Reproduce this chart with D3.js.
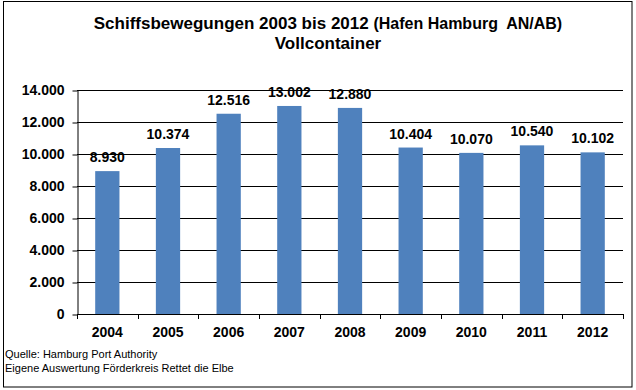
<!DOCTYPE html>
<html>
<head>
<meta charset="utf-8">
<script src="https://cdn.jsdelivr.net/npm/d3@7"></script>
<style>
  html, body { margin: 0; padding: 0; background: #fff; }
  svg text { font-family: "Liberation Sans", Arial, sans-serif; fill: #000; }
</style>
</head>
<body>
<svg id="chart" width="636" height="390"></svg>
<script>
const categories = ["2004", "2005", "2006", "2007", "2008", "2009", "2010", "2011", "2012"];
const values = [8930, 10374, 12516, 13002, 12880, 10404, 10070, 10540, 10102];
const yTicks = [0, 2000, 4000, 6000, 8000, 10000, 12000, 14000];

const svg = d3.select("#chart");
const m = { left: 77, right: 623, top: 90, bottom: 314 };

const de = d3.formatLocale({ decimal: ",", thousands: ".", grouping: [3], currency: ["", " €"] });
const fmt = de.format(",d");

// outer border
svg.append("rect").attr("x", 3.5).attr("y", 1.5).attr("width", 628.5).attr("height", 385.5)
  .attr("fill", "none").attr("stroke", "#000").attr("stroke-width", 1);

const xOuter = d3.scaleBand().domain(categories).range([m.left, m.right]).padding(0);
const x = d3.scaleBand().domain(categories).range([m.left, m.right]).paddingInner(0.6).paddingOuter(0.3);
const y = d3.scaleLinear().domain([0, 14000]).range([m.bottom, m.top]);

// gridlines
svg.append("g").selectAll("line").data(yTicks.filter(d => d > 0)).join("line")
  .attr("x1", m.left).attr("x2", m.right)
  .attr("y1", d => Math.round(y(d)) + 0.5).attr("y2", d => Math.round(y(d)) + 0.5)
  .attr("stroke", "#000").attr("stroke-width", 1);

// bars
svg.append("g").selectAll("rect").data(values).join("rect")
  .attr("x", (d, i) => x(categories[i]))
  .attr("width", x.bandwidth())
  .attr("y", d => y(d))
  .attr("height", d => y(0) - y(d))
  .attr("fill", "#4F81BD");

// y axis
const yAxis = d3.axisLeft(y).tickValues(yTicks).tickFormat(fmt).tickSizeInner(5).tickSizeOuter(0).tickPadding(8);
const gy = svg.append("g").attr("transform", `translate(${m.left + 0.5},0.5)`).call(yAxis);
gy.select(".domain").attr("stroke", "#000");
gy.selectAll(".tick line").attr("stroke", "#000");
gy.selectAll(".tick text").attr("font-size", 14).attr("font-weight", "bold")
  .attr("font-family", "'Liberation Sans', Arial, sans-serif").attr("fill", "#000");

// x axis: baseline line + ticks at category boundaries
const boundaries = categories.map(c => xOuter(c)).concat([m.right]);
svg.append("line").attr("x1", m.left).attr("x2", m.right)
  .attr("y1", m.bottom + 0.5).attr("y2", m.bottom + 0.5).attr("stroke", "#000");
svg.append("g").selectAll("line").data(boundaries).join("line")
  .attr("x1", d => Math.round(d) + 0.5).attr("x2", d => Math.round(d) + 0.5)
  .attr("y1", m.bottom).attr("y2", m.bottom + 5).attr("stroke", "#000");
svg.append("g").selectAll("text").data(categories).join("text")
  .attr("x", d => xOuter(d) + xOuter.bandwidth() / 2)
  .attr("y", 337)
  .attr("text-anchor", "middle")
  .attr("font-size", 14).attr("font-weight", "bold")
  .text(d => d);

// value labels
svg.append("g").selectAll("text").data(values).join("text")
  .attr("x", (d, i) => x(categories[i]) + x.bandwidth() / 2)
  .attr("y", d => y(d) - 9)
  .attr("text-anchor", "middle")
  .attr("font-size", 14).attr("font-weight", "bold")
  .text(d => fmt(d));

// title
const t = svg.append("text").attr("x", 328).attr("y", 29).attr("text-anchor", "middle").attr("font-weight", "bold");
t.append("tspan").attr("font-size", 17).text("Schiffsbewegungen 2003 bis 2012 ");
t.append("tspan").attr("font-size", 16).text("(Hafen Hamburg\u00A0 AN/AB)");
svg.append("text").attr("x", 328).attr("y", 49).attr("text-anchor", "middle")
  .attr("font-weight", "bold").attr("font-size", 17).text("Vollcontainer");

// footer
svg.append("text").attr("x", 5).attr("y", 358).attr("font-size", 11).text("Quelle: Hamburg Port Authority");
svg.append("text").attr("x", 5).attr("y", 372).attr("font-size", 11).text("Eigene Auswertung Förderkreis Rettet die Elbe");
</script>
</body>
</html>
